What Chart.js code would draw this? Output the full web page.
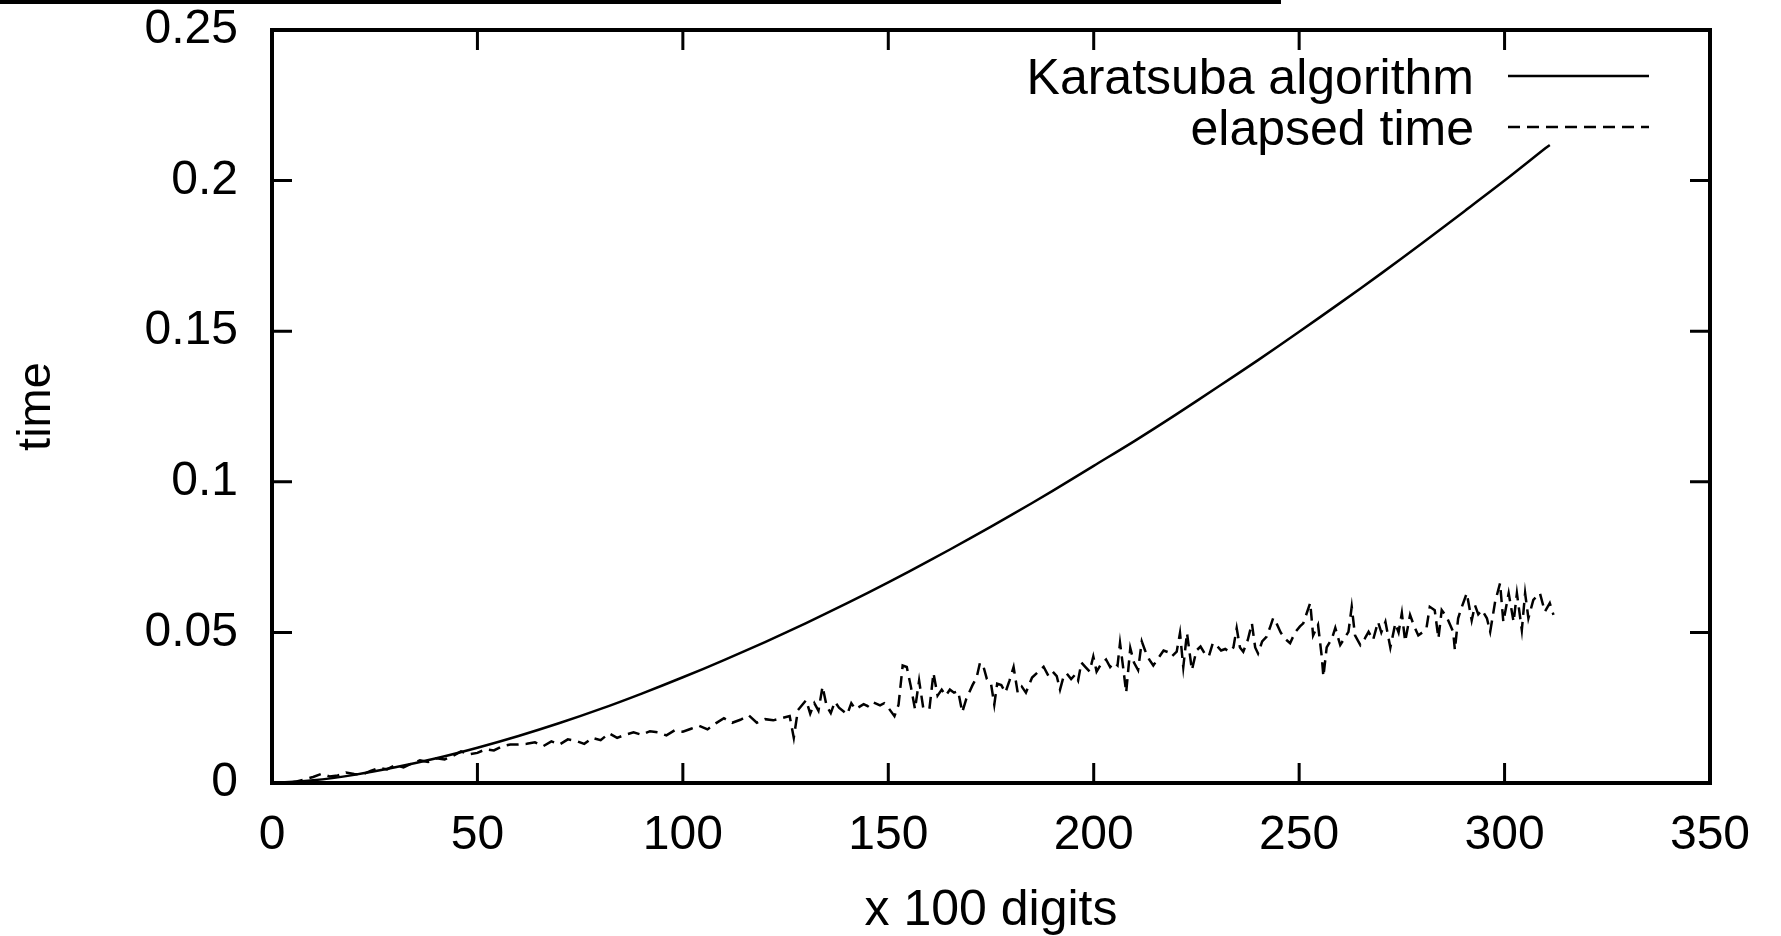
<!DOCTYPE html>
<html>
<head>
<meta charset="utf-8">
<script src="https://cdn.jsdelivr.net/npm/chart.js@4.4.1/dist/chart.umd.min.js"></script>
<style>
  html, body { margin: 0; padding: 0; background: #fff; }
  #wrap { width: 1781px; height: 936px; position: relative; }
  canvas { display: block; }
</style>
</head>
<body>
<div id="wrap"><canvas id="c" width="1781" height="936"></canvas></div>
<script>
// ---------- data ----------
const seriesLabels = ['Karatsuba algorithm', 'elapsed time'];
const xTitle = 'x 100 digits';
const yTitle = 'time';
const xTickValues = [0, 50, 100, 150, 200, 250, 300, 350];
const yTickValues = [0, 0.05, 0.1, 0.15, 0.2, 0.25];
const yTickLabels = ['0', '0.05', '0.1', '0.15', '0.2', '0.25'];

const karatsubaX = [0, 10, 20, 30, 40, 50, 60, 70, 80, 90, 100, 110, 120, 130, 140, 150, 160,
  170, 180, 190, 200, 210, 220, 230, 240, 250, 260, 270, 280, 290, 300, 310, 311];
const karatsubaY = [0, 0.0009, 0.0027, 0.0052, 0.0082, 0.0117, 0.0156, 0.0199, 0.0246, 0.0297,
  0.0351, 0.0408, 0.0468, 0.0531, 0.0597, 0.0666, 0.0738, 0.0813, 0.0890, 0.0970, 0.1053,
  0.1136, 0.1223, 0.1313, 0.1404, 0.1498, 0.1594, 0.1692, 0.1793, 0.1896, 0.2000, 0.2108, 0.2118];

const elapsedX = [0, 2, 4, 6, 8, 10, 12, 14, 16, 18, 20, 22, 24, 26, 28, 30, 32, 34, 36, 38, 40,
  42, 44, 46, 48, 50, 52, 54, 56, 58, 60, 62, 64, 66, 68, 70, 72, 74, 76, 78, 80, 82, 84, 86,
  88, 90, 92, 94, 96, 98, 100, 102, 104, 106, 108, 110, 112, 114, 116, 118, 120, 122, 124, 126,
  127, 128, 130, 131, 132, 133, 134, 135, 136, 137, 138, 140, 141, 142, 144, 145, 146, 148, 149,
  150, 151.5, 152.5, 153.5, 154.5, 155.5, 156.5, 157.5, 158.5, 160, 161, 162, 163, 164, 165, 166,
  167, 168, 169, 170.5, 171.5, 172.3, 173, 174, 175, 175.8, 176.5, 177.5, 178.5, 179.5, 180.5,
  181.5, 182.5, 183.5, 185, 187.8, 189, 190, 191, 191.8, 192.6, 193.4, 194.5, 195.5, 196.2, 197,
  198, 199, 199.9, 200.7, 201.8, 203, 204, 205, 205.8, 206.4, 207.2, 207.9, 208.9, 209.8, 210.8,
  211.7, 212.5, 213.5, 214.5, 216, 217, 218, 219, 220.2, 221, 221.8, 222.7, 223.9, 225, 226,
  227, 228, 229, 230, 231, 232, 233, 234, 234.8, 235.6, 236.4, 237.5, 238.5, 239.3, 240, 241,
  242.1, 243, 243.7, 244.5, 245.5, 246.5, 247.8, 249, 250.2, 251, 252.7, 253.4, 254.6, 255.5,
  255.9, 256.7, 258, 258.8, 260, 261, 262, 262.8, 263.6, 264.9, 266, 266.9, 268, 269.2, 270,
  271, 272.2, 273.4, 274.2, 275, 275.8, 277, 278, 279, 280, 281, 281.8, 283, 283.9, 284.7,
  285.9, 287.5, 287.9, 288.7, 289.6, 290.8, 292, 292.8, 293.6, 294.5, 295.7, 296.5, 297.7,
  298.9, 299.7, 301, 302.2, 303, 304.2, 305, 305.8, 307, 308.6, 309.8, 311, 311.9];
const elapsedY = [0.0002, 0.0001, 0.0000, 0.0005, 0.0012, 0.0020, 0.0030, 0.0022, 0.0025, 0.0035,
  0.0030, 0.0028, 0.0040, 0.0050, 0.0045, 0.0060, 0.0052, 0.0065, 0.0075, 0.0070, 0.0082,
  0.0078, 0.0090, 0.0105, 0.0095, 0.0100, 0.0112, 0.0108, 0.0122, 0.0128, 0.0128, 0.0130,
  0.0135, 0.0122, 0.0138, 0.0128, 0.0145, 0.0140, 0.0130, 0.0150, 0.0142, 0.0165, 0.0150,
  0.0160, 0.0168, 0.0160, 0.0172, 0.0168, 0.0158, 0.0175, 0.0170, 0.0180, 0.0190, 0.0178,
  0.0198, 0.0215, 0.0200, 0.0210, 0.0225, 0.0200, 0.0212, 0.0208, 0.0215, 0.0222,
  0.0150, 0.0242, 0.0275, 0.0230, 0.0265, 0.0240, 0.0320, 0.0255, 0.0232, 0.0270, 0.0250,
  0.0228, 0.0265, 0.0245, 0.0262, 0.0255, 0.0270, 0.0258, 0.0265,
  0.0250, 0.0222, 0.0260, 0.0390, 0.0385, 0.0320, 0.0245, 0.0340, 0.0250, 0.0245, 0.0365,
  0.0290, 0.0310, 0.0290, 0.0310, 0.0300, 0.0305, 0.0235, 0.0280, 0.0325, 0.0350, 0.0398,
  0.0395, 0.0345, 0.0330, 0.0260, 0.0330, 0.0325, 0.0300, 0.0340, 0.0385, 0.0300, 0.0320,
  0.0300, 0.0350, 0.0386, 0.0355, 0.0370, 0.0355, 0.0310, 0.0350, 0.0364, 0.0345, 0.0360,
  0.0340, 0.0400, 0.0385, 0.0370, 0.0420, 0.0370, 0.0395, 0.0410, 0.0385, 0.0400, 0.0390,
  0.0465, 0.0380, 0.0300, 0.0448, 0.0400, 0.0375, 0.0470, 0.0440, 0.0410, 0.0390, 0.0420,
  0.0440, 0.0435, 0.0420, 0.0436, 0.0498, 0.0385, 0.0498, 0.0375, 0.0440, 0.0453, 0.0430,
  0.0420, 0.0465, 0.0455, 0.0440, 0.0445, 0.0436, 0.0450, 0.0514, 0.0450, 0.0436, 0.0475,
  0.0530, 0.0450, 0.0430, 0.0470, 0.0486, 0.0520, 0.0548, 0.0530, 0.0500, 0.0480, 0.0464,
  0.0500, 0.0520, 0.0530, 0.0598, 0.0490, 0.0525, 0.0420, 0.0353, 0.0450, 0.0480, 0.0515,
  0.0458, 0.0480, 0.0502, 0.0585, 0.0490, 0.0458, 0.0480, 0.0502, 0.0475, 0.0535, 0.0500,
  0.0535, 0.0450, 0.0530, 0.0500, 0.0564, 0.0470, 0.0558, 0.0520, 0.0490, 0.0500, 0.0515,
  0.0585, 0.0574, 0.0480, 0.0574, 0.0552, 0.0502, 0.0442, 0.0547, 0.0585, 0.0630, 0.0540,
  0.0590, 0.0560, 0.0574, 0.0547, 0.0502, 0.0602, 0.0663, 0.0535, 0.0630, 0.0535, 0.0630,
  0.0508, 0.0630, 0.0547, 0.0608, 0.0630, 0.0569, 0.0597, 0.0558];

// ---------- chart ----------
const FONT = "'Liberation Sans', Arial, Helvetica, sans-serif";

const framePlugin = {
  id: 'frame',
  afterDraw(chart) {
    const ctx = chart.ctx;
    const a = chart.chartArea;
    const xs = chart.scales.x, ys = chart.scales.y;
    ctx.save();
    ctx.strokeStyle = '#000';
    ctx.lineCap = 'butt';
    // inward tick marks (all four sides)
    ctx.lineWidth = 3;
    const tl = 20;
    xs.ticks.forEach(t => {
      const px = xs.getPixelForValue(t.value);
      ctx.beginPath();
      ctx.moveTo(px, a.bottom); ctx.lineTo(px, a.bottom - tl);
      ctx.moveTo(px, a.top); ctx.lineTo(px, a.top + tl);
      ctx.stroke();
    });
    ys.ticks.forEach(t => {
      const py = ys.getPixelForValue(t.value);
      ctx.beginPath();
      ctx.moveTo(a.left, py); ctx.lineTo(a.left + tl, py);
      ctx.moveTo(a.right, py); ctx.lineTo(a.right - tl, py);
      ctx.stroke();
    });
    // frame
    ctx.lineWidth = 4;
    ctx.strokeRect(a.left, a.top, a.right - a.left, a.bottom - a.top);
    // legend, gnuplot style: text right-aligned, sample line to its right
    ctx.font = '50px ' + FONT;
    ctx.fillStyle = '#000';
    ctx.textAlign = 'right';
    ctx.textBaseline = 'alphabetic';
    const textRight = 1474, lineL = 1508, lineR = 1649;
    const rows = [76, 127];
    chart.data.datasets.forEach((ds, i) => {
      const y = rows[i];
      ctx.fillText(ds.label, textRight, y + 18);
      ctx.beginPath();
      ctx.lineWidth = ds.borderWidth;
      ctx.setLineDash(ds.borderDash || []);
      ctx.moveTo(lineL, y); ctx.lineTo(lineR, y);
      ctx.stroke();
      ctx.setLineDash([]);
    });
    ctx.restore();
  },
  beforeDraw(chart) {
    const ctx = chart.ctx;
    ctx.save();
    ctx.fillStyle = '#fff';
    ctx.fillRect(0, 0, chart.width, chart.height);
    // stray rule cut at top of the original image
    ctx.fillStyle = '#000';
    ctx.fillRect(0, 0, 1281, 4);
    ctx.restore();
  }
};

function noScalePadding(s) {
  s.paddingTop = 0; s.paddingBottom = 0; s.paddingLeft = 0; s.paddingRight = 0;
}

function start() {
  Chart.defaults.font.family = FONT;
  Chart.defaults.color = '#000';
  new Chart(document.getElementById('c'), {
    type: 'line',
    data: {
      datasets: [
        {
          label: seriesLabels[0],
          data: karatsubaX.map((x, i) => ({ x: x, y: karatsubaY[i] })),
          borderColor: '#000',
          borderWidth: 2.5,
          pointRadius: 0,
          tension: 0.3,
          fill: false
        },
        {
          label: seriesLabels[1],
          data: elapsedX.map((x, i) => ({ x: x, y: elapsedY[i] })),
          borderColor: '#000',
          borderWidth: 2.5,
          borderDash: [12, 7],
          pointRadius: 0,
          tension: 0,
          fill: false
        }
      ]
    },
    options: {
      responsive: false,
      animation: false,
      devicePixelRatio: 1,
      layout: { padding: { top: 30, right: 71, left: 0, bottom: 0 } },
      plugins: { legend: { display: false }, tooltip: { enabled: false } },
      scales: {
        x: {
          type: 'linear',
          min: 0, max: 350,
          afterBuildTicks: s => { s.ticks = xTickValues.map(v => ({ value: v })); },
          afterFit: s => { s.height = 153; noScalePadding(s); },
          grid: { display: false, drawTicks: false },
          border: { display: false },
          ticks: { padding: 24, font: { size: 48 }, maxRotation: 0, autoSkip: false,
                   callback: v => String(v) },
          title: { display: true, text: xTitle, font: { size: 50 },
                   padding: { top: 0, bottom: -5 } }
        },
        y: {
          type: 'linear',
          min: 0, max: 0.25,
          afterBuildTicks: s => { s.ticks = yTickValues.map(v => ({ value: v })); },
          afterFit: s => { s.width = 272; noScalePadding(s); },
          grid: { display: false, drawTicks: false },
          border: { display: false },
          ticks: { padding: 34, font: { size: 48 }, autoSkip: false,
                   callback: v => yTickLabels[yTickValues.findIndex(t => Math.abs(t - v) < 1e-9)] },
          title: { display: true, text: yTitle, font: { size: 47 },
                   padding: { top: 9, bottom: 0 } }
        }
      }
    },
    plugins: [framePlugin]
  });
}

if (document.fonts && document.fonts.load) {
  Promise.all([document.fonts.load("48px 'Liberation Sans'"), document.fonts.load("50px 'Liberation Sans'")])
    .then(start, start);
} else { start(); }
</script>
</body>
</html>
